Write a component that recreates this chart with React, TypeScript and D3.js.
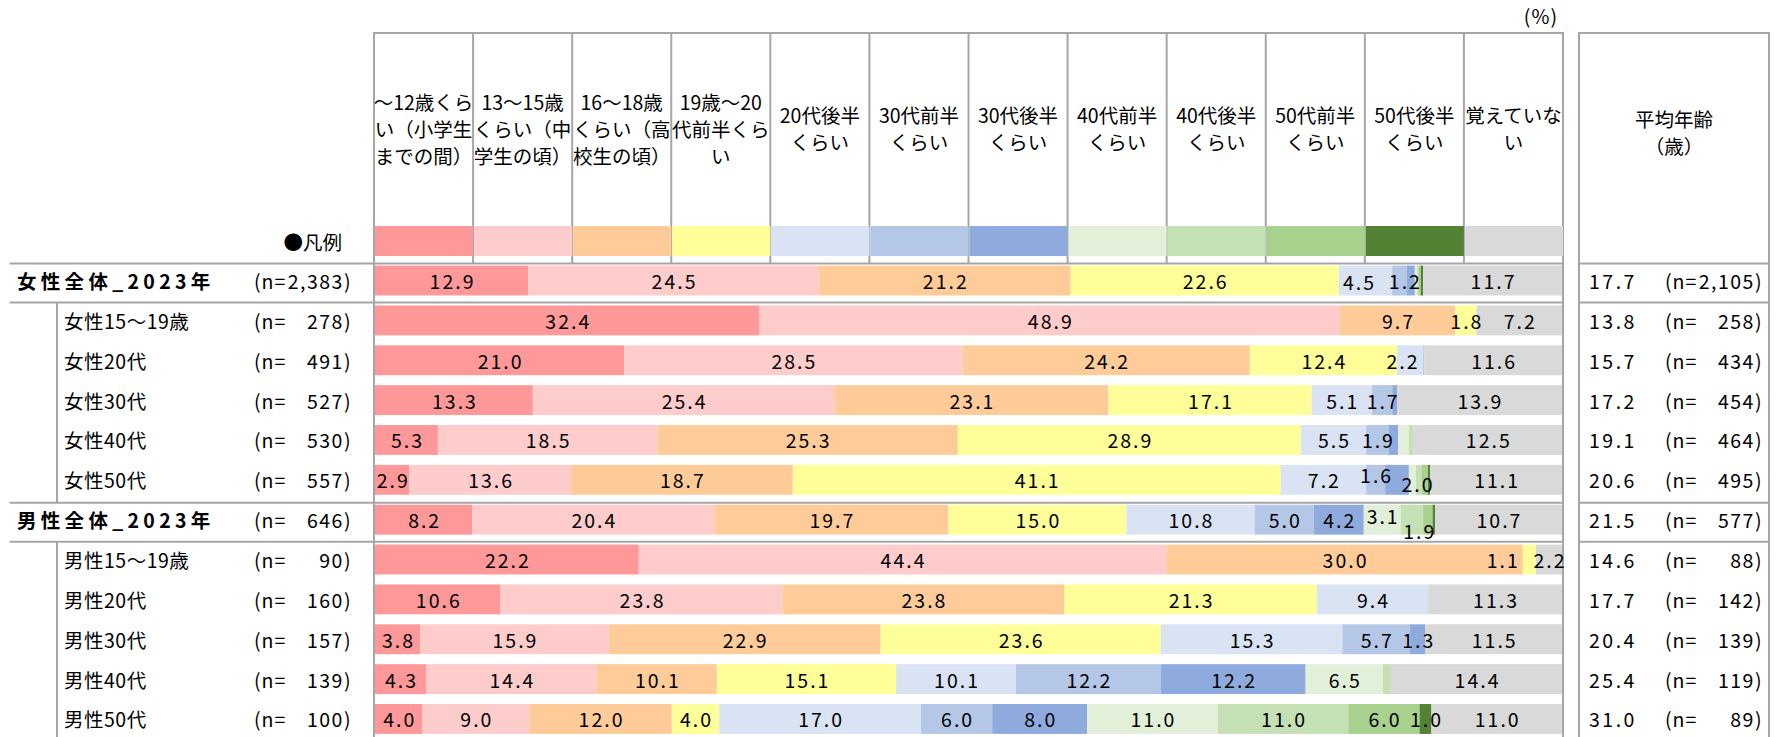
import React from 'react';
import * as d3 from 'd3';

// ---------- data ----------
const categories = [
  '～12歳くら\nい（小学生\nまでの間）',
  '13～15歳\nくらい（中\n学生の頃）',
  '16～18歳\nくらい（高\n校生の頃）',
  '19歳～20\n代前半くら\nい',
  '20代後半\nくらい',
  '30代前半\nくらい',
  '30代後半\nくらい',
  '40代前半\nくらい',
  '40代後半\nくらい',
  '50代前半\nくらい',
  '50代後半\nくらい',
  '覚えていな\nい',
];
const colors = ['#FF9999', '#FFCCCC', '#FFCC99', '#FFFF99', '#DAE3F3', '#B4C7E7', '#8FAADC', '#E2F0D9', '#C5E0B4', '#A9D18E', '#548235', '#D9D9D9'];

const rowLabels = ['女性全体_2023年', '女性15～19歳', '女性20代', '女性30代', '女性40代', '女性50代', '男性全体_2023年', '男性15～19歳', '男性20代', '男性30代', '男性40代', '男性50代'];
const rowN = ['2,383', '278', '491', '527', '530', '557', '646', '90', '160', '157', '139', '100'];
const avgAge = [17.7, 13.8, 15.7, 17.2, 19.1, 20.6, 21.5, 14.6, 17.7, 20.4, 25.4, 31.0];
const avgN = ['2,105', '258', '434', '454', '464', '495', '577', '88', '142', '139', '119', '89'];

const femaleAll = [12.9, 24.5, 21.2, 22.6, 4.5, 1.2, 0.7, 0.2, 0.1, 0.2, 0.2, 11.7];
const female15 = [32.4, 48.9, 9.7, 1.8, 0, 0, 0, 0, 0, 0, 0, 7.2];
const female20 = [21.0, 28.5, 24.2, 12.4, 2.2, 0.1, 0, 0, 0, 0, 0, 11.6];
const female30 = [13.3, 25.4, 23.1, 17.1, 5.1, 1.7, 0.4, 0, 0, 0, 0, 13.9];
const female40 = [5.3, 18.5, 25.3, 28.9, 5.5, 1.9, 0.8, 0.9, 0.4, 0, 0, 12.5];
const female50 = [2.9, 13.6, 18.7, 41.1, 7.2, 1.6, 2.0, 0.6, 0.5, 0.5, 0.2, 11.1];
const maleAll = [8.2, 20.4, 19.7, 15.0, 10.8, 5.0, 4.2, 3.1, 1.9, 0.8, 0.2, 10.7];
const male15 = [22.2, 44.4, 30.0, 1.1, 0, 0, 0, 0, 0, 0, 0, 2.2];
const male20 = [10.6, 23.8, 23.8, 21.3, 9.4, 0, 0, 0, 0, 0, 0, 11.3];
const male30 = [3.8, 15.9, 22.9, 23.6, 15.3, 5.7, 1.3, 0, 0, 0, 0, 11.5];
const male40 = [4.3, 14.4, 10.1, 15.1, 10.1, 12.2, 12.2, 6.5, 0.7, 0, 0, 14.4];
const male50 = [4.0, 9.0, 12.0, 4.0, 17.0, 6.0, 8.0, 11.0, 11.0, 6.0, 1.0, 11.0];

const rowValues = [femaleAll, female15, female20, female30, female40, female50, maleAll, male15, male20, male30, male40, male50];

// manual label nudges (row, col, dx, dy) – layout only
const labelNudges: [number, number, number, number][] = [
  [0, 4, -7, 1], [0, 5, 5, 0],
  [5, 5, 0, -5], [5, 6, 20, 4], [6, 7, 0, -4], [6, 8, 7, 11], [7, 3, -27, 0], [2, 4, -8, 0],
];

// ---------- layout ----------
const W = 1785, H = 737;
const FONT = "'Noto Sans CJK JP', 'Noto Sans', sans-serif";
const LINE = '#A6A6A6';
const FS = 19.5;

export default function App() {
  const keys = d3.range(categories.length).map(String);
  const table = rowValues.map((vals, i) => {
    const o: any = { row: rowLabels[i] };
    vals.forEach((v, j) => (o[String(j)] = v));
    return o;
  });
  const series = d3.stack<any>().keys(keys).offset(d3.stackOffsetExpand)(table);

  const x = d3.scaleLinear().domain([0, 1]).range([375, 1562]);
  const y = d3.scaleBand<string>().domain(rowLabels).range([260.6, 738.9]).paddingInner(0.25).paddingOuter(0.125);
  const col = d3.scaleBand<number>().domain(d3.range(categories.length)).range([374, 1563]);
  const bw = y.bandwidth();
  const step = col.step();

  const nudge = (r: number, c: number) => {
    const f = labelNudges.find((n) => n[0] === r && n[1] === c);
    return f ? [f[2], f[3]] : [0, 0];
  };

  const totalIdx = rowLabels.map((l, i) => (l.includes('全体') ? i : -1)).filter((i) => i >= 0);

  const hLines: React.ReactNode[] = [];
  totalIdx.forEach((i, k) => {
    const top = (y(rowLabels[i]) as number) - 2;
    const bot = (y(rowLabels[i]) as number) + bw + 7;
    [top, bot].forEach((yy, m) => {
      hLines.push(<line key={`h${k}${m}a`} x1={9.6} x2={1564} y1={yy} y2={yy} stroke={LINE} strokeWidth={2} />);
      hLines.push(<line key={`h${k}${m}b`} x1={1578} x2={1770} y1={yy} y2={yy} stroke={LINE} strokeWidth={2} />);
    });
    const next = totalIdx[k + 1];
    const endY = next !== undefined ? (y(rowLabels[next]) as number) - 2 : H;
    hLines.push(<line key={`v${k}`} x1={57} x2={57} y1={bot} y2={endY} stroke={LINE} strokeWidth={2} />);
  });

  return (
    <svg width={W} height={H} style={{ position: 'absolute', left: 0, top: 0, display: 'block', background: '#fff' }} fontFamily={FONT}>
      {/* header grid */}
      <line x1={373} x2={1564} y1={33} y2={33} stroke={LINE} strokeWidth={2} />
      {d3.range(1, categories.length).map((j) => (
        <line key={`d${j}`} x1={col(j)} x2={col(j)} y1={33} y2={264} stroke={LINE} strokeWidth={2} />
      ))}
      <line x1={374} x2={374} y1={32} y2={H} stroke={LINE} strokeWidth={2} />
      <line x1={1563} x2={1563} y1={32} y2={H} stroke={LINE} strokeWidth={2} />
      {/* right box */}
      <line x1={1578} x2={1770} y1={33} y2={33} stroke={LINE} strokeWidth={2} />
      <line x1={1579} x2={1579} y1={32} y2={H} stroke={LINE} strokeWidth={2} />
      <line x1={1769} x2={1769} y1={32} y2={H} stroke={LINE} strokeWidth={2} />
      {hLines}

      {/* header text */}
      {categories.map((c, j) => {
        const lines = c.split('\n');
        const lh = 26.7;
        const y0 = 128.3 - ((lines.length - 1) * lh) / 2;
        return (
          <text key={`c${j}`} x={(col(j) as number) + step / 2} textAnchor="middle" fontSize={FS} fill="#000">
            {lines.map((l, k) => (
              <tspan key={k} x={(col(j) as number) + step / 2} y={y0 + k * lh} dominantBaseline="central">{l}</tspan>
            ))}
          </text>
        );
      })}
      <text x={1674} y={118} textAnchor="middle" dominantBaseline="central" fontSize={FS}>平均年齢</text>
      <text x={1674} y={145} textAnchor="middle" dominantBaseline="central" fontSize={FS}>（歳）</text>
      <text x={1558} y={15} textAnchor="end" dominantBaseline="central" fontSize={FS} letterSpacing={1}>(%)</text>

      {/* legend swatches */}
      <text x={342} y={241} textAnchor="end" dominantBaseline="central" fontSize={FS}>●凡例</text>
      {categories.map((_, j) => (
        <rect key={`s${j}`} x={(col(j) as number) + 1} y={226} width={step - 1} height={30} fill={colors[j]} />
      ))}

      {/* bars */}
      {series.map((s, j) => (
        <g key={`g${j}`} fill={colors[j]}>
          {s.map((d, i) => (
            <rect key={i} x={x(d[0])} y={y(rowLabels[i])} width={Math.max(0, x(d[1]) - x(d[0]))} height={bw} />
          ))}
        </g>
      ))}
      {series.map((s, j) =>
        s.map((d, i) => {
          const v = rowValues[i][j];
          if (v < 1) return null;
          const [dx, dy] = nudge(i, j);
          return (
            <text key={`l${j}-${i}`} x={(x(d[0]) + x(d[1])) / 2 + dx + 1} y={(y(rowLabels[i]) as number) + bw / 2 + dy}
              textAnchor="middle" dominantBaseline="central" fontSize={FS} fill="#000" letterSpacing={2}
              style={{ fontVariantNumeric: 'tabular-nums' }}>
              {v.toFixed(1)}
            </text>
          );
        })
      )}

      {/* row labels */}
      {rowLabels.map((l, i) => {
        const cy = (y(l) as number) + bw / 2;
        const total = l.includes('全体');
        return (
          <g key={`r${i}`} fontSize={FS} style={{ fontVariantNumeric: 'tabular-nums' }}>
            <text x={total ? 17 : 64} y={cy} dominantBaseline="central" fontWeight={total ? 'bold' : 'normal'} letterSpacing={total ? 4.3 : 0.5}>{l}</text>
            <text x={254} y={cy} dominantBaseline="central" letterSpacing={1}>(n=</text>
            <text x={352} y={cy} textAnchor="end" dominantBaseline="central" letterSpacing={1.5}>{rowN[i]})</text>
            <text x={1589} y={cy} dominantBaseline="central" letterSpacing={2.5}>{avgAge[i].toFixed(1)}</text>
            <text x={1665} y={cy} dominantBaseline="central" letterSpacing={1}>(n=</text>
            <text x={1763} y={cy} textAnchor="end" dominantBaseline="central" letterSpacing={1.5}>{avgN[i]})</text>
          </g>
        );
      })}
    </svg>
  );
}
